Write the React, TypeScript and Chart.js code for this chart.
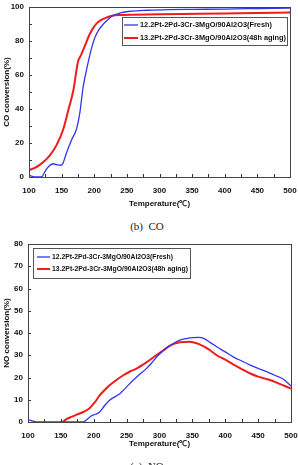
import React, { useEffect, useRef } from "react";
import { Chart, registerables } from "chart.js";

Chart.register(...registerables);

// ---- CO light-off data (temperature °C, conversion %) ----
const coFreshT = [100, 105, 110, 116, 120, 125, 130, 137, 143, 148, 152, 157, 165, 173, 178, 180, 183, 186, 191, 196, 201, 207, 214, 222, 229, 240, 255, 280, 311, 350, 400, 450, 500];
const coFreshY = [1.0, 0.4, 0, 0, 0.3, 3.5, 6.2, 7.8, 7.2, 6.9, 8.0, 13.7, 21.6, 28.5, 38, 44, 53, 59, 68, 76, 82, 86.5, 90, 93, 95, 96.5, 97.5, 98.1, 98.4, 98.6, 98.8, 99.1, 99.4];
const coAgedT = [100, 108, 116, 124, 132, 142, 152, 160, 168, 175, 180, 186, 193, 199, 204, 209, 214, 222, 229, 240, 260, 300, 362, 420, 500];
const coAgedY = [4, 5.2, 7, 9.5, 12.7, 18.6, 27.5, 39, 51, 67.6, 72, 77.5, 84, 88, 90.5, 92, 93, 94.3, 95, 95.3, 95.5, 95.8, 96, 96.3, 96.7];

// ---- NO conversion data ----
const noFreshT = [100, 105, 110, 115, 150, 184, 190, 196, 203, 209, 216, 224, 232, 240, 250, 260, 270, 280, 288, 295, 303, 311, 321, 331, 341, 351, 360, 367, 377, 387, 400, 412, 425, 438, 450, 463, 475, 488, 500];
const noFreshY = [1, 0.6, 0.2, 0, 0, 0, 1.2, 2.7, 3.5, 4.5, 7.2, 9.8, 11.3, 12.8, 15.8, 18.8, 21.5, 24, 26.5, 29, 31.3, 33.4, 35.3, 36.8, 37.5, 37.9, 38, 37.6, 35.8, 33.8, 31.5, 29.3, 27.4, 25.6, 24.1, 22.6, 21, 19.3, 16.2];
const noAgedT = [153, 158, 166, 174, 184, 194, 202, 209, 217, 224, 235, 245, 255, 265, 280, 295, 305, 316, 331, 346, 361, 375, 387, 400, 412, 425, 438, 450, 463, 480, 500];
const noAgedY = [0, 1.2, 2.3, 3.3, 4.5, 6.3, 9, 12, 14.5, 16.5, 19, 21, 22.7, 24, 26.8, 30, 32, 34.3, 35.8, 36.1, 34.9, 32.6, 30, 28, 25.9, 23.8, 21.8, 20.4, 19.3, 17.5, 15];

const seriesNames = [
  "12.2Pt-2Pd-3Cr-3MgO/90Al2O3(Fresh)",
  "13.2Pt-2Pd-3Cr-3MgO/90Al2O3(48h aging)",
];
const xTitle = "Temperature(\u2103)";

const BLUE = "#3434f0";
const RED = "#f01c1c";
const FONT = "'Liberation Sans', Arial, sans-serif";

const zip = (xs: number[], ys: number[]) => xs.map((x, i) => ({ x, y: ys[i] }));

// Frame around the plot area plus short inward ticks
const frameTicks = {
  id: "frameTicks",
  afterDatasetsDraw(chart: any, _a: any, opts: any) {
    const { ctx, chartArea: a, scales } = chart;
    ctx.save();
    ctx.strokeStyle = "#333";
    ctx.lineWidth = 1;
    ctx.beginPath();
    const xs = scales.x;
    for (let v = xs.min; v <= xs.max + 1e-6; v += opts.xStep) {
      const px = Math.round(xs.getPixelForValue(v)) + 0.5;
      ctx.moveTo(px, a.bottom);
      ctx.lineTo(px, a.bottom - 3);
    }
    const ys = scales.y;
    for (let v = ys.min; v <= ys.max + 1e-6; v += opts.yStep) {
      const py = Math.round(ys.getPixelForValue(v)) + 0.5;
      ctx.moveTo(a.left, py);
      ctx.lineTo(a.left + 3, py);
    }
    ctx.stroke();
    ctx.strokeStyle = "#444";
    ctx.strokeRect(Math.round(a.left) + 0.5, Math.round(a.top) + 0.5, Math.round(a.right - a.left), Math.round(a.bottom - a.top));
    ctx.restore();
  },
};

// Boxed legend placed inside the plot area
const boxLegend = {
  id: "boxLegend",
  afterDraw(chart: any, _a: any, o: any) {
    const { ctx } = chart;
    ctx.save();
    ctx.fillStyle = "#fff";
    ctx.fillRect(o.x, o.y, o.w, o.h);
    ctx.strokeStyle = "#555";
    ctx.lineWidth = 1;
    ctx.strokeRect(o.x + 0.5, o.y + 0.5, o.w, o.h);
    chart.data.datasets.forEach((ds: any, i: number) => {
      const y = o.y + o.rows[i];
      ctx.strokeStyle = ds.borderColor;
      ctx.lineWidth = ds.borderWidth;
      ctx.beginPath();
      ctx.moveTo(o.x + o.line0, y);
      ctx.lineTo(o.x + o.line1, y);
      ctx.stroke();
      ctx.fillStyle = "#111";
      ctx.font = o.font;
      ctx.textBaseline = "middle";
      ctx.textAlign = "left";
      ctx.fillText(ds.label, o.x + o.text, y, o.textW[i]);
    });
    ctx.restore();
  },
};

type Cfg = {
  fresh: { x: number; y: number }[];
  aged: { x: number; y: number }[];
  yMax: number;
  yStep: number;
  yMinor: number;
  yTitle: string;
  yWidth: number;
  xHeight: number;
  pad: { top: number; right: number; bottom: number; left: number };
  legend: any;
  titlePadBottom: number;
};

function LineChart({ cfg, width, height }: { cfg: Cfg; width: number; height: number }) {
  const ref = useRef<HTMLCanvasElement>(null);
  useEffect(() => {
    if (!ref.current) return;
    const tickFont = { family: FONT, size: 8, weight: "bold" as const };
    const chart = new Chart(ref.current, {
      type: "line",
      data: {
        datasets: [
          { label: seriesNames[0], data: cfg.fresh, borderColor: BLUE, borderWidth: 1.3, pointRadius: 0, cubicInterpolationMode: "monotone", fill: false },
          { label: seriesNames[1], data: cfg.aged, borderColor: RED, borderWidth: 2, pointRadius: 0, cubicInterpolationMode: "monotone", fill: false },
        ],
      },
      options: {
        animation: false,
        responsive: false,
        devicePixelRatio: 1,
        layout: { padding: cfg.pad },
        plugins: {
          legend: { display: false },
          tooltip: { enabled: false },
          frameTicks: { xStep: 25, yStep: cfg.yMinor },
          boxLegend: cfg.legend,
        } as any,
        scales: {
          x: {
            type: "linear",
            min: 100,
            max: 500,
            border: { display: false },
            grid: { display: false, drawTicks: false },
            ticks: { stepSize: 50, color: "#111", font: tickFont, padding: 9, maxRotation: 0 },
            title: { display: true, text: xTitle, color: "#111", font: tickFont, padding: { top: 0, bottom: cfg.titlePadBottom } },
            afterFit: (s: any) => {
              s.height = cfg.xHeight;
              s.paddingLeft = 0;
              s.paddingRight = 0;
            },
          },
          y: {
            type: "linear",
            min: 0,
            max: cfg.yMax,
            border: { display: false },
            grid: { display: false, drawTicks: false },
            ticks: { stepSize: cfg.yStep, color: "#111", font: tickFont, padding: 5 },
            title: { display: true, text: cfg.yTitle, color: "#111", font: tickFont, padding: { top: 2, bottom: 0 } },
            afterFit: (s: any) => {
              s.width = cfg.yWidth;
              s.paddingTop = 0;
              s.paddingBottom = 0;
            },
          },
        },
      },
      plugins: [frameTicks, boxLegend],
    });
    return () => chart.destroy();
  }, [cfg]);
  return <canvas ref={ref} width={width} height={height} style={{ display: "block", width, height }} />;
}

const coCfg: Cfg = {
  fresh: zip(coFreshT, coFreshY),
  aged: zip(coAgedT, coAgedY),
  yMax: 100,
  yStep: 20,
  yMinor: 10,
  yTitle: "CO conversion(%)",
  yWidth: 29,
  xHeight: 38,
  pad: { top: 7, right: 8, bottom: 0, left: 0 },
  titlePadBottom: 6,
  legend: { x: 122, y: 17, w: 165, h: 28, rows: [8, 21], line0: 2, line1: 16, text: 18, textW: [132, 146], font: `bold 7.5px ${FONT}` },
};

const noCfg: Cfg = {
  fresh: zip(noFreshT, noFreshY),
  aged: zip(noAgedT, noAgedY),
  yMax: 80,
  yStep: 10,
  yMinor: 10,
  yTitle: "NO conversion(%)",
  yWidth: 28,
  xHeight: 43,
  pad: { top: 12, right: 7, bottom: 0, left: 0 },
  titlePadBottom: 16,
  legend: { x: 33, y: 16, w: 157, h: 30, rows: [9, 21], line0: 4, line1: 17, text: 19, textW: [121, 136], font: `bold 7px ${FONT}` },
};

const caption: React.CSSProperties = {
  position: "absolute",
  left: 0,
  right: 4,
  textAlign: "center",
  fontFamily: "'Liberation Serif', 'Times New Roman', serif",
  fontSize: 11,
  lineHeight: "12px",
  color: "#222",
  whiteSpace: "pre",
};

export default function App() {
  return (
    <div style={{ position: "fixed", left: 0, top: 0, width: 298, height: 465, background: "#fff", overflow: "hidden" }}>
      <div style={{ position: "absolute", left: 0, top: 0 }}>
        <LineChart cfg={coCfg} width={298} height={215} />
      </div>
      <div style={{ ...caption, top: 220 }}>{"(b)  CO"}</div>
      <div style={{ position: "absolute", left: 0, top: 232 }}>
        <LineChart cfg={noCfg} width={298} height={233} />
      </div>
      <div style={{ ...caption, top: 460 }}>{"(c)  NO"}</div>
    </div>
  );
}
